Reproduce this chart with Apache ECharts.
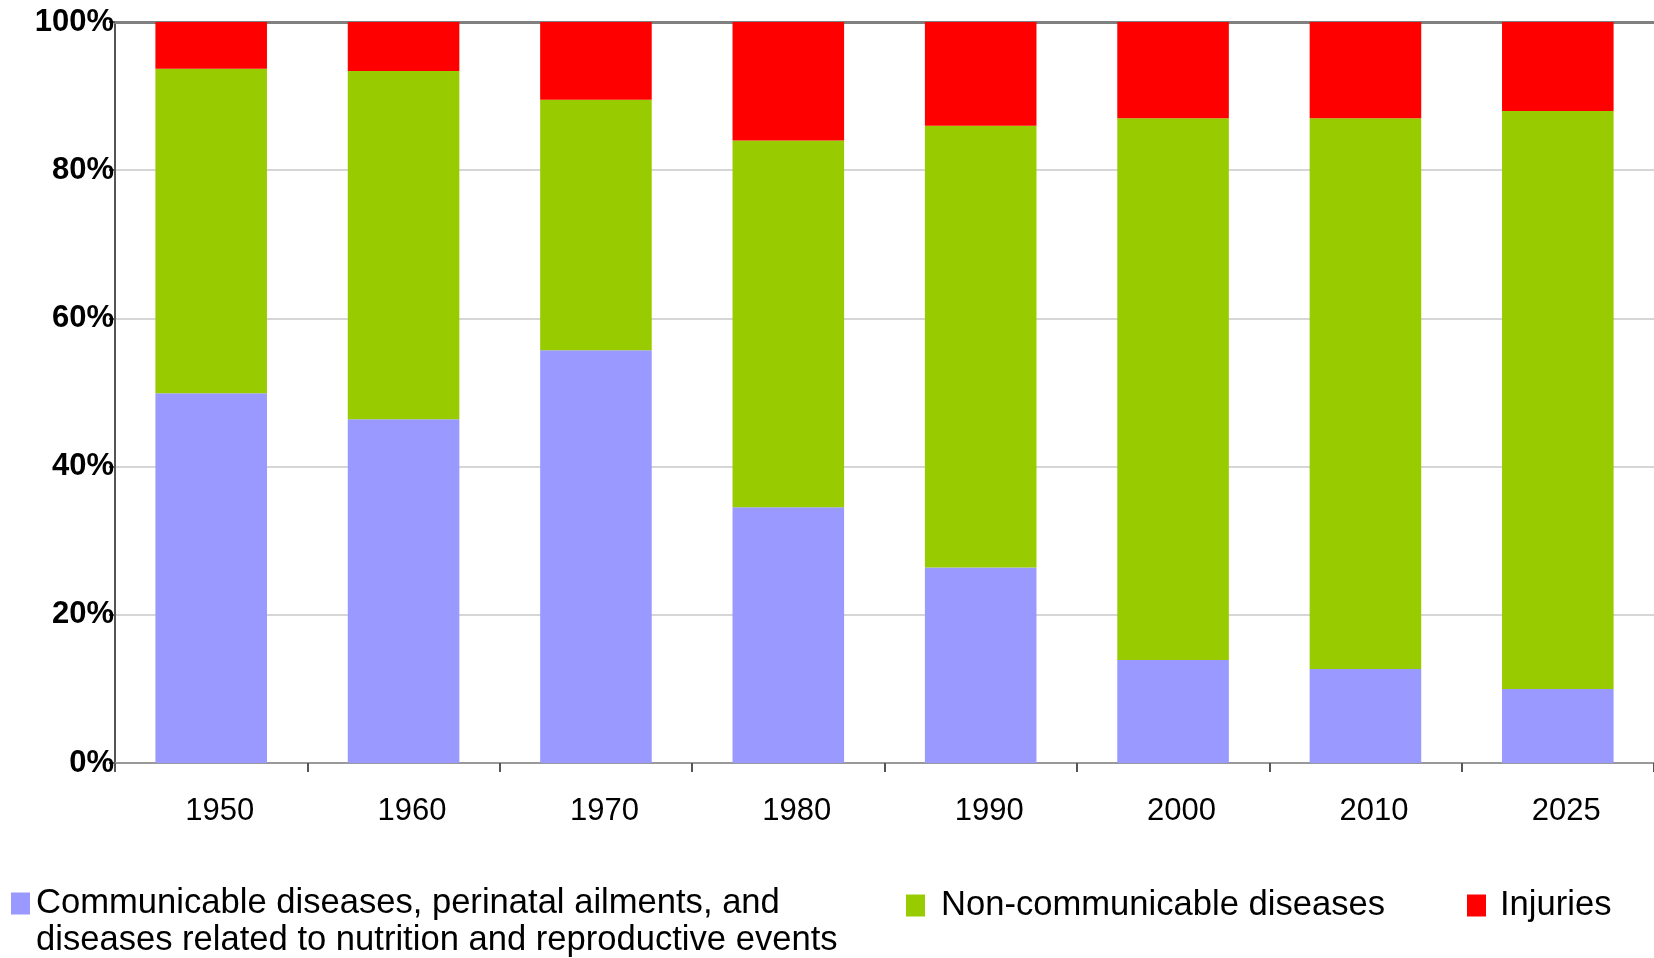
<!DOCTYPE html>
<html><head><meta charset="utf-8">
<script src="https://cdn.jsdelivr.net/npm/echarts@6/dist/echarts.min.js"></script>
<style>html,body{margin:0;padding:0;background:#fff}#c{width:1654px;height:958px}</style>
</head><body><div id="c"></div>
<script>
const categories = ['1950', '1960', '1970', '1980', '1990', '2000', '2010', '2025'];
const communicable = [49.9, 46.4, 55.7, 34.5, 26.4, 13.9, 12.7, 10.0];
const nonCommunicable = [43.8, 47.0, 33.8, 49.5, 59.6, 73.1, 74.3, 78.0];
const injuries = [6.3, 6.6, 10.5, 16.0, 14.0, 13.0, 13.0, 12.0];
const seriesNames = [
  'Communicable diseases, perinatal ailments, and\ndiseases related to nutrition and reproductive events',
  'Non-communicable diseases',
  'Injuries'
];
const seriesColors = ['#9999ff', '#99cc00', '#ff0000'];

const FONT = 'Liberation Sans, Arial, Helvetica, sans-serif';
const chart = echarts.init(document.getElementById('c'), null, {renderer: 'canvas'});
const legendCommon = {
  orient: 'horizontal', padding: 0, icon: 'rect', itemWidth: 19, itemHeight: 22,
  selectedMode: false,
  textStyle: {fontFamily: FONT, fontSize: 34.6, color: '#000', lineHeight: 37}
};
chart.setOption({
  animation: false,
  backgroundColor: '#fff',
  grid: {left: 115, top: 22, right: -12, bottom: 195, containLabel: false},
  legend: [
    Object.assign({}, legendCommon, {left: 11, top: 848,
      formatter: function (name) { return '\n' + name; },
      data: [{name: seriesNames[0], textStyle: {padding: [0, 0, 0, 1]}}]}),
    Object.assign({}, legendCommon, {left: 906, top: 887, data: [{name: seriesNames[1], textStyle: {padding: [0, 0, 0, 11]}}]}),
    Object.assign({}, legendCommon, {left: 1467, top: 887, data: [{name: seriesNames[2], textStyle: {padding: [0, 0, 0, 9]}}]})
  ],
  xAxis: [
    {
      type: 'category', data: categories, position: 'bottom',
      axisLine: {show: true, lineStyle: {color: '#999', width: 2}},
      axisTick: {show: true, alignWithLabel: false, length: 9, lineStyle: {color: '#555', width: 2}},
      axisLabel: {fontFamily: FONT, fontSize: 31, color: '#000', margin: 33, padding: [0, 0, 0, 17]},
      splitLine: {show: false}
    },
    {
      type: 'category', data: categories, position: 'top',
      axisLine: {show: true, lineStyle: {color: '#808080', width: 3}},
      axisTick: {show: false}, axisLabel: {show: false}, splitLine: {show: false}
    }
  ],
  yAxis: {
    type: 'value', min: 0, max: 100, interval: 20,
    axisLine: {show: true, lineStyle: {color: '#555', width: 2}},
    axisTick: {show: true, length: 6, lineStyle: {color: '#555', width: 2}},
    axisLabel: {formatter: '{value}%', fontFamily: FONT, fontSize: 31, fontWeight: 'bold', color: '#000', margin: 1, padding: [3, 0, 0, 0]},
    splitLine: {show: true, lineStyle: {color: '#c8c8c8', width: 1.5}}
  },
  series: [
    {name: seriesNames[0], type: 'bar', stack: 'total', barWidth: '58%', data: communicable, itemStyle: {color: seriesColors[0]}},
    {name: seriesNames[1], type: 'bar', stack: 'total', barWidth: '58%', data: nonCommunicable, itemStyle: {color: seriesColors[1]}},
    {name: seriesNames[2], type: 'bar', stack: 'total', barWidth: '58%', data: injuries, itemStyle: {color: seriesColors[2]}}
  ]
});
</script>
</body></html>
